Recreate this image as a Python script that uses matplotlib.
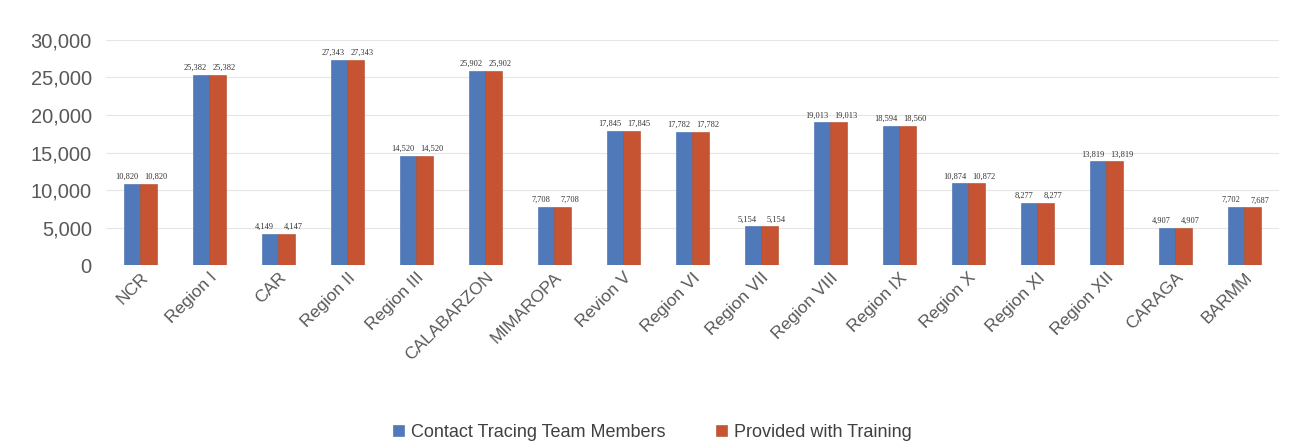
import numpy as np
import matplotlib.pyplot as plt
from matplotlib.ticker import FuncFormatter

# ─── Datos ────────────────────────────────────────────────────────────────────
regiones = ["NCR", "Region I", "CAR", "Region II", "Region III", "CALABARZON",
            "MIMAROPA", "Revion V", "Region VI", "Region VII", "Region VIII",
            "Region IX", "Region X", "Region XI", "Region XII", "CARAGA", "BARMM"]
miembros = [10820, 25382, 4149, 27343, 14520, 25902, 7708, 17845, 17782, 5154,
            19013, 18594, 10874, 8277, 13819, 4907, 7702]
entrenados = [10820, 25382, 4147, 27343, 14520, 25902, 7708, 17845, 17782, 5154,
              19013, 18560, 10872, 8277, 13819, 4907, 7687]

AZUL = "#5079BA"
NARANJA = "#C65432"

fig = plt.figure(figsize=(13.05, 4.44), dpi=100)
ax = fig.add_axes([0.081, 0.403, 0.899, 0.507])

x = np.arange(len(regiones))
w = 0.24
ax.bar(x - w / 2, miembros, width=w, color=AZUL, label="Contact Tracing Team Members",
       edgecolor="#3F6AAE", linewidth=0.4)
ax.bar(x + w / 2, entrenados, width=w, color=NARANJA, label="Provided with Training",
       edgecolor="#B04828", linewidth=0.4)

# etiquetas de datos: azul a la izquierda, naranja a la derecha
for i in range(len(regiones)):
    ax.text(x[i] - w / 2 - 0.08, miembros[i] + 400, f"{miembros[i]:,}", ha="center",
            va="bottom", fontsize=6, family="Liberation Serif", color="#333333")
    ax.text(x[i] + w / 2 + 0.1, entrenados[i] + 400, f"{entrenados[i]:,}", ha="center",
            va="bottom", fontsize=6, family="Liberation Serif", color="#333333")

ax.set_ylim(0, 30000)
ax.set_xlim(-0.5, len(regiones) - 0.5)
ax.set_yticks(range(0, 30001, 5000))
ax.yaxis.set_major_formatter(FuncFormatter(lambda v, p: f"{int(v):,}"))
ax.grid(axis="y", color="#E6E6E6", linewidth=0.8)
ax.set_axisbelow(True)
for s in ax.spines.values():
    s.set_visible(False)
ax.tick_params(axis="y", length=0, labelsize=14.5, labelcolor="#595959", pad=10)
ax.tick_params(axis="x", length=0, labelsize=12.5, labelcolor="#595959")
ax.set_xticks(x)
ax.set_xticklabels(regiones, rotation=45, ha="right", rotation_mode="anchor",
                   family="Liberation Sans")
for t in ax.get_yticklabels():
    t.set_family("Liberation Sans")

leg = fig.legend(loc="lower center", ncol=2, frameon=False, bbox_to_anchor=(0.5, -0.03),
                 handlelength=0.6, handleheight=0.6, columnspacing=2.8,
                 handletextpad=0.4,
                 prop={"family": ["Liberation Sans Narrow", "Liberation Sans"], "size": 13})
for t in leg.get_texts():
    t.set_color("#404040")

fig.savefig("out.png", dpi=100, facecolor="white")
